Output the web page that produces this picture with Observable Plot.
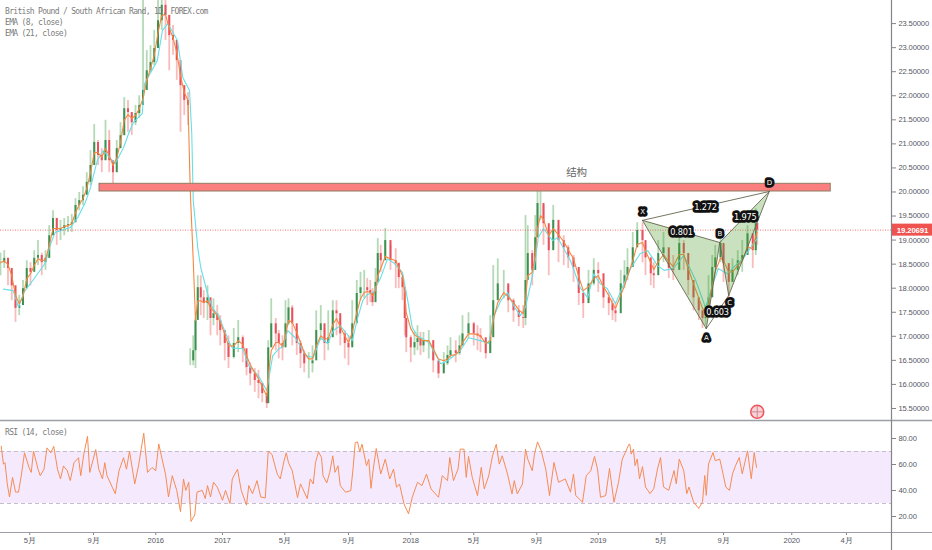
<!DOCTYPE html>
<html><head><meta charset="utf-8">
<script src="https://cdn.jsdelivr.net/npm/d3@7"></script>
<script src="https://cdn.jsdelivr.net/npm/@observablehq/plot@0.6"></script>
<style>
html,body{margin:0;padding:0;background:#fff;overflow:hidden}
#wrap{position:relative;width:932px;height:550px}
#wrap svg{display:block;background:transparent}
.leg{position:absolute;left:5px;font:8px/10px "DejaVu Sans Mono",monospace;letter-spacing:-.68px;color:#7b7b7b;white-space:pre}
</style></head><body><div id="wrap"></div>
<script>
// bar numbers of the sampled candles (trading-day count from the left edge)
const bars=[0,5,10,15,20,25,30,35,40,45,50,55,60,65,70,75,80,85,90,95,100,105,110,115,120,125,130,135,140,145,150,155,160,165,170,175,180,185,190,195,200,205,210,215,220,225,230,235,240,245,250,
253,257,260,263,267,271,276,280,284,289,293,299,304,311,317,323,328,333,339,344,349,355,357,361,367,371,376,380,384,389,395,400,405,411,416,421,427,432,437,443,448,453,459,464,469,475,480,485,489,
493,496,500,503,507,513,520,527,531,536,539,541,547,552,556,560,564,571,577,584,591,596,600,607,612,616,624,631,636,640,647,653,657,663,671,677,684,691,697,700,703,709,713,716,720,724,731,737,744,751,757,764,771,777,784,791,797,804,811,816,820,827,832,836,843,849,856,860,867,871,877,884,891,897,905,911,917,924,931,936,940,944,949,953,960,964,971,976,983,989,996,1003,1007,1009];
const closes=[18.53,18.62,18.41,18.05,17.58,17.64,17.99,18.41,18.33,18.62,18.68,18.53,18.62,19.09,19.45,19.2,19.24,19.3,19.32,19.36,19.72,19.82,19.93,20.2,20.55,21.03,20.76,20.65,21.07,20.65,20.4,20.9,21.17,21.73,21.65,21.44,21.63,21.8,22.11,22.52,22.69,22.98,23.56,23.88,23.67,23.25,23.15,22.73,22.21,21.9,21.8,
16.49,16.7,17.33,18.01,17.8,17.68,17.8,17.37,17.47,17.33,17.12,16.85,16.56,16.85,16.97,16.74,16.35,16.22,16.08,16.02,15.81,15.6,16.76,17.26,17.05,16.85,16.76,17.26,17.59,17.26,16.85,16.64,16.43,16.43,16.49,17.12,17.26,16.85,16.97,17.53,17.47,17.05,16.85,16.76,17.26,17.89,18.01,18.01,17.95,
17.89,17.7,18.12,18.72,18.57,18.99,18.57,18.51,18.22,18.01,17.37,16.97,16.76,16.87,16.95,16.8,16.91,16.91,16.49,16.22,16.43,16.6,16.7,16.64,16.8,17.05,17.26,17.05,17.01,16.97,16.64,16.97,17.74,18.09,18.09,17.74,17.53,17.39,17.37,18.16,18.72,18.37,19.05,19.76,19.76,19.34,18.78,19.41,18.99,18.84,18.63,18.43,17.89,17.68,18.09,18.37,18.3,17.8,17.68,17.53,17.47,18.09,18.26,18.43,18.84,19.2,18.99,18.63,18.3,18.26,18.72,18.84,18.41,18.37,18.93,18.72,18.16,17.8,17.53,17.37,17.39,17.8,18.43,18.63,18.93,18.51,18.12,18.37,18.57,18.68,19.13,18.78,19.34,19.20691];
const highs=[18.73,18.78,18.61,18.33,17.74,17.85,18.16,18.57,18.53,18.78,18.99,18.73,18.78,19.3,19.61,19.45,19.41,19.45,19.49,19.53,19.86,19.99,20.11,20.4,20.86,21.4,21.07,20.9,21.49,21.28,20.65,21.07,21.44,21.96,21.9,21.65,21.8,22,24.3,22.94,23.04,23.36,24.08,24.19,24.08,23.67,23.46,23.04,22.52,22.21,22.07,
16.74,17.01,17.37,18.26,18.26,17.95,18.05,17.74,17.78,17.64,17.43,17.12,17.01,17.16,17.33,17.01,16.6,16.45,16.33,16.29,16.03,15.76,16.91,17.78,17.37,17.12,17.01,17.74,17.78,17.64,17.12,16.91,16.7,16.66,16.8,17.53,17.64,17.16,17.53,17.74,17.74,17.37,17.12,17.01,17.74,18.16,18.33,18.37,18.2,
18.16,17.99,18.41,19.03,18.89,19.24,18.89,18.82,18.53,18.26,17.64,17.22,17.01,17.08,17.22,17.08,17.08,17.12,16.8,16.45,16.66,16.8,16.97,16.91,17.01,17.43,17.49,17.29,17.22,17.16,16.91,17.43,18.47,18.61,18.37,18.05,17.78,17.64,17.64,19.51,19.3,18.78,19.51,20.13,20.03,19.72,19.09,19.72,19.3,19.09,18.89,18.68,18.16,17.91,18.37,18.61,18.53,18.05,17.91,17.78,17.7,18.37,18.57,18.82,19.16,19.36,19.36,18.89,18.57,18.53,18.99,19.16,18.68,18.68,19.24,18.99,18.41,18.05,17.78,17.53,17.64,18.26,18.68,18.89,19.16,18.89,18.37,18.61,18.78,18.99,19.3,19.09,19.65,19.45];
const lows=[18.26,18.41,18.05,17.74,17.29,17.43,17.74,18.16,18.05,18.41,18.47,18.26,18.37,18.89,19.16,18.89,18.99,19.09,19.16,19.16,19.51,19.61,19.72,19.99,20.13,20.65,20.55,20.4,20.65,20.4,20.13,20.65,20.97,21.49,21.24,21.17,21.38,21.53,22,22.21,22.48,22.63,23.15,23.36,23.15,22.52,22.84,22.32,21.24,21.59,21.38,
16.39,16.39,16.33,17.37,17.43,17.37,17.33,17.01,17.22,17.01,16.8,16.49,16.33,16.53,16.66,16.45,16.18,15.97,15.83,15.7,15.62,15.5,15.97,16.8,16.7,16.53,16.49,16.91,17.22,16.8,16.6,16.33,16.24,16.12,16.24,16.7,16.91,16.49,16.7,17.22,17.01,16.8,16.53,16.39,16.8,17.53,17.74,17.78,17.64,
17.7,17.62,17.85,18.37,18.33,18.68,18.37,17.99,17.99,17.74,17.01,16.66,16.45,16.6,16.7,16.6,16.66,16.53,16.24,16.12,16.24,16.39,16.53,16.45,16.6,16.8,16.95,16.8,16.7,16.66,16.53,16.7,17.33,17.78,17.78,17.49,17.29,17.2,17.16,17.22,18.26,18.05,18.47,19.3,19.41,18.89,18.26,18.89,18.53,18.47,18.41,18.12,17.64,17.37,17.74,18.05,17.91,17.58,17.43,17.33,17.29,17.78,17.99,18.16,18.53,18.89,18.53,18.26,18.05,17.99,18.41,18.53,18.2,18.16,18.61,18.37,17.85,17.53,17.33,17.16,17.22,17.53,18.05,18.41,18.53,18.12,17.78,18.12,18.26,18.33,18.68,18.41,18.68,18.89];
const ema8=[18.53,18.57,18.49,18.26,17.85,17.68,17.82,18.2,18.3,18.47,18.61,18.57,18.59,18.89,19.24,19.24,19.24,19.28,19.3,19.34,19.57,19.74,19.86,20.07,20.4,20.82,20.82,20.72,20.9,20.76,20.55,20.7,21.03,21.49,21.61,21.53,21.59,21.73,21.94,22.32,22.57,22.84,23.31,23.67,23.69,23.4,23.21,22.9,22.42,22.07,21.9,
20.03,18.57,17.33,17.74,17.74,17.7,17.74,17.58,17.53,17.43,17.29,17.05,16.8,16.8,16.91,16.83,16.6,16.41,16.24,16.12,15.95,15.76,16.18,16.7,16.87,16.87,16.8,17.01,17.33,17.29,17.08,16.87,16.66,16.53,16.53,16.8,17.01,16.95,16.95,17.24,17.37,17.2,17.01,16.87,17.08,17.49,17.78,17.91,17.93,
17.91,17.85,17.95,18.26,18.41,18.66,18.61,18.57,18.43,18.26,17.91,17.49,17.16,17.03,16.99,16.93,16.91,16.91,16.74,16.53,16.49,16.53,16.6,16.62,16.7,16.87,17.05,17.05,17.03,17.01,16.85,16.91,17.33,17.7,17.91,17.82,17.7,17.55,17.47,17.78,18.26,18.33,18.68,19.24,19.51,19.43,19.09,19.24,19.11,18.97,18.8,18.61,18.24,17.95,18.03,18.2,18.26,18.03,17.85,17.68,17.58,17.85,18.05,18.24,18.57,18.91,18.95,18.78,18.53,18.39,18.55,18.7,18.55,18.45,18.7,18.7,18.41,18.09,17.8,17.58,17.49,17.66,18.05,18.34,18.63,18.57,18.33,18.34,18.47,18.57,18.86,18.82,19.09,19.16];
const ema21Bars=[4,17,24,31,43,60,67,73,93,103,113,120,129,137,153,164,171,177,189,192,209,216,223,236,243,252,255,257,263,267,276,283,291,304,309,323,331,344,355,363,371,376,383,393,407,417,427,436,444,453,469,476,483,489,497,507,516,524,536,543,549,556,571,587,596,613,624,640,651,657,667,676,684,693,700,707,713,717,724,736,743,760,773,783,791,800,809,820,829,840,853,863,876,885,897,911,927,940,947,957,969,977,991,1004,1009];
const ema21=[17.98,17.95,17.6,17.91,18.16,18.53,18.93,19.16,19.26,19.47,19.78,20.09,20.65,20.86,20.59,20.92,21.22,21.44,21.63,22.25,22.73,23.36,23.5,23.15,22.38,22.11,21.22,19.82,18.84,18.43,17.89,17.58,17.43,16.91,16.76,16.74,16.39,16.18,15.87,16.6,16.74,16.78,17.12,16.97,16.6,16.56,16.97,16.85,17.12,17.22,16.91,17.37,17.74,17.87,17.91,18.22,18.61,18.53,18.33,17.74,17.18,17.01,16.87,16.43,16.49,16.7,16.97,16.91,16.85,17.39,17.74,17.91,17.64,17.43,17.6,18.09,18.57,19.05,19.24,18.99,19.05,18.57,18.01,17.8,18.3,18.09,17.99,17.68,18.01,18.41,18.72,18.78,18.47,18.37,18.41,18.68,18.16,17.6,17.95,18.41,18.3,18.43,18.63,18.93,19.03];
const rsiBars=[1,4,6,9,12,16,20,24,28,32,38,41,44,50,53,58,62,67,71,76,80,84,89,93,98,104,107,111,116,119,127,131,136,139,142,149,153,158,164,168,172,179,184,191,196,202,207,211,216,220,224,229,235,240,244,247,251,254,259,262,269,273,276,280,284,289,296,300,306,309,316,321,328,331,336,342,347,353,357,362,369,373,378,381,384,389,396,400,409,413,
417,420,424,428,430,435,439,443,446,450,453,460,467,470,473,476,479,482,488,491,494,497,501,507,513,519,524,528,532,538,544,549,556,562,568,574,584,589,596,599,604,610,613,618,621,624,629,636,641,645,651,656,661,665,669,676,682,685,689,696,700,703,709,712,716,721,727,732,738,744,753,760,764,767,776,781,787,792,796,800,807,812,818,824,829,833,838,
839,841,844,846,849,852,856,860,866,871,876,880,884,891,898,901,905,911,915,918,924,931,936,939,941,944,950,953,959,962,967,972,976,980,985,989,996,1001,1005,1008];
const rsiValues=[74,60.2,61.4,45.1,35,50.1,38.8,38.8,52.6,69,57.7,53.9,70.3,56.4,51.4,56.4,72.8,69,74,56.4,48.9,58.9,55.2,47.6,61.4,65.2,51.4,67.7,81.6,53.9,71.5,56.4,48.9,61.4,51.4,42.6,37.5,55.2,65.2,56.4,70.3,45.1,58.9,84.1,53.9,57.7,55.2,75.8,62.7,52.6,35,51.4,40.1,23.7,48.9,40.1,46.4,16.2,21.2,38.8,40.1,33.8,43.8,35,46.4,42.6,32.5,40.1,30,48.9,56.4,40.1,28.7,43.8,37.5,47.6,35,34.3,70.3,67.7,52.6,48.9,62.7,69,61.4,55.2,34.5,45.1,33.8,48.9,
45,61.6,69.7,65.4,51.4,45.8,54,66.7,54,59,43.8,38.7,39.9,56.5,76.9,77.4,69.7,75.6,59,64.1,41.7,56.5,72.3,52.7,64.1,48.9,56.5,42.5,45,29.7,22.1,34.8,46.3,43.8,52.7,41.2,34.8,51.4,47.6,65.4,47.6,56.5,71.8,71.8,50.1,66.2,50.1,36.1,57.8,41.2,51.4,66.7,75.6,60.3,66.7,52.7,37.4,47.6,37.4,45,71.8,64.1,55.2,68,77.4,70.5,56.5,36.1,61.6,46.3,48.9,38.7,52.7,36.1,31,51.4,55.2,66.2,56.5,34.8,36.1,57,31,46.3,64.1,69.2,75.6,
75.6,68,71.8,59.1,64.2,49,58.4,42.7,37.6,41.4,56.6,65.4,42.7,40.1,55.3,45.2,64.2,55.3,37.6,42.7,31.3,26.2,31.3,51.5,36.3,60.4,69.2,62.9,64.2,56.6,42.7,40.1,52.8,59.1,65.4,52.8,70.5,49,69.2,57.8];
const tickBars=[39,124,207,296,379,464,547,631,715,797,881,964,1055,1128];
const tickLabels=["5月","9月","2016","2017","5月","9月","2018","5月","9月","2019","5月","9月","2020","4月"];
const priceTicks=[15.5,16,16.5,17,17.5,18,18.5,19,19.5,20,20.5,21,21.5,22,22.5,23,23.5];
const rsiTicks=[20,40,60,80];
const gapBar=253, lastPrice=19.20691;
const zoneBars=[132,1107], zonePrices=[20.01,20.17];
const pointNames=["X","A","B","C","D"];
const pointBars=[856,941,959,971,1025];
const pointPrices=[19.41,17.16,18.95,17.85,20.01];
const pointLabelBars=[856,941,959,972,1025];
const pointLabelPrices=[19.59,16.97,19.14,17.7,20.2];
const ratioNames=["1.272","0.801","0.603","1.975"];
const ratioBars=[940,908,956,993];
const ratioPrices=[19.68,19.16,17.49,19.47];
const xDomain=[0,1188], xEdge=1243;
const priceDomain=[15.25,23.98], rsiDomain=[7.7,93.85];

const candles=bars.map((b,i)=>({b,close:closes[i],open:(i===0||b===gapBar)?closes[i]:closes[i-1],high:highs[i],low:lows[i]}));
const pt=i=>({b:pointBars[i],p:pointPrices[i]});
const poly=idx=>idx.map(pt);
const seg=(a,b)=>Plot.line([pt(a),pt(b)],{x:"b",y:"p",stroke:"#66664f",strokeWidth:.9});
const G="#3c9150",R="#e9505c",GW="#b4d9b6",RW="#f9bcbc",AX="#83848c",TXT="#55575f";
const base={width:932,marginLeft:0,marginRight:41,marginTop:0,style:{fontFamily:'"Liberation Sans",sans-serif',fontSize:"7.6px",letterSpacing:"-.15px",color:TXT,background:"transparent",overflow:"visible"}};
const halo={fill:"#fff",stroke:"#111",strokeWidth:5.5,strokeLinejoin:"round",paintOrder:"stroke",fontFamily:'"DejaVu Sans"'};

const main=Plot.plot({...base,height:420,marginBottom:0,
 x:{domain:xDomain,axis:null},
 y:{domain:priceDomain},
 marks:[
  Plot.ruleX(candles,{x:"b",y1:"low",y2:"high",stroke:d=>d.close>=d.open?GW:RW,strokeWidth:1.8,clip:true}),
  Plot.ruleX(candles,{x:"b",y1:"open",y2:"close",stroke:d=>d.close>=d.open?G:R,strokeWidth:2,clip:true}),
  Plot.line(ema21,{x:(d,i)=>ema21Bars[i],y:d=>d,stroke:"#66dfe8",strokeWidth:1.1,clip:true}),
  Plot.line(ema8,{x:(d,i)=>bars[i],y:d=>d,stroke:"#f5863f",strokeWidth:1.1,clip:true}),
  Plot.ruleY([lastPrice],{stroke:"#ef5350",strokeDasharray:"1,1.5",strokeWidth:.8}),
  Plot.rect([0],{x1:()=>zoneBars[0],x2:()=>zoneBars[1],y1:()=>zonePrices[0],y2:()=>zonePrices[1],fill:"#fb7f7f",stroke:"#8f7d62",strokeWidth:1}),
  Plot.text(["结构"],{x:()=>768,y:()=>20.4,fontFamily:'"Noto Sans CJK SC"',fontSize:10.5,fill:"#666"}),
  Plot.line(poly([0,1,2]),{x:"b",y:"p",fill:"#4c9a2a",fillOpacity:.3,stroke:"none"}),
  Plot.line(poly([2,3,4]),{x:"b",y:"p",fill:"#4c9a2a",fillOpacity:.3,stroke:"none"}),
  seg(0,1),seg(1,2),seg(2,3),seg(3,4),seg(0,2),seg(2,4),seg(0,4),seg(1,3),
  Plot.text(ratioNames,{x:(d,i)=>ratioBars[i],y:(d,i)=>ratioPrices[i],fontSize:8.2,...halo}),
  Plot.text(pointNames,{x:(d,i)=>pointLabelBars[i],y:(d,i)=>pointLabelPrices[i],fontSize:7,...halo}),
  Plot.dot([0],{x:()=>1009,y:()=>15.43,r:6.5,fill:"#fbd3d6",stroke:"#f0505a",strokeWidth:1.5}),
  Plot.dot([0],{x:()=>1009,y:()=>15.43,r:4,symbol:"plus",stroke:"#c78b92",strokeWidth:1}),
  Plot.axisY({anchor:"right",ticks:priceTicks,tickFormat:d=>d.toFixed(5),tickSize:4,tickPadding:3,label:null,stroke:AX,fill:TXT}),
  Plot.rect([0],{x1:()=>xDomain[1],x2:()=>xEdge,y1:()=>lastPrice-.125,y2:()=>lastPrice+.125,fill:"#ef5350"}),
  Plot.text([lastPrice],{x:()=>1216,y:d=>d,text:d=>d.toFixed(5),fill:"#fff",fontWeight:"bold",fontSize:7.8}),
  Plot.ruleX([xDomain[1]],{stroke:AX,strokeWidth:1.2})
 ]});

const rsi=Plot.plot({...base,height:130,marginBottom:18,
 x:{domain:xDomain,axis:null},
 y:{domain:rsiDomain},
 marks:[
  Plot.rect([0],{x1:()=>xDomain[0],x2:()=>xDomain[1],y1:()=>30,y2:()=>70,fill:"#f5e9fd"}),
  Plot.ruleY([30,70],{stroke:"#c3bec9",strokeDasharray:"4,3",strokeWidth:1}),
  Plot.line(rsiValues,{x:(d,i)=>rsiBars[i],y:d=>d,stroke:"#f68c54",strokeWidth:1}),
  Plot.axisY({anchor:"right",ticks:rsiTicks,tickFormat:d=>d.toFixed(2),tickSize:4,tickPadding:3,label:null,stroke:AX,fill:TXT}),
  Plot.axisX({anchor:"bottom",ticks:tickBars,tickFormat:d=>tickLabels[tickBars.indexOf(d)],tickSize:3,tickPadding:2,label:null,stroke:AX,fill:TXT}),
  Plot.ruleY([rsiDomain[1]],{x1:xDomain[0],x2:xEdge,stroke:"#9d9ea4",strokeWidth:1.6}),
  Plot.ruleY([rsiDomain[0]],{x1:xDomain[0],x2:xEdge,stroke:"#9d9ea4",strokeWidth:1.2}),
  Plot.ruleX([xDomain[1]],{y1:rsiDomain[1],y2:-6.2,stroke:AX,strokeWidth:1.2})
 ]});

const wrap=document.getElementById("wrap");
wrap.append(main,rsi);
[["British Pound / South African Rand, 1D, FOREX.com",7],["EMA (8, close)",18],["EMA (21, close)",29],["RSI (14, close)",428]].forEach(([t,top])=>{
  const d=document.createElement("div");d.className="leg";d.textContent=t;d.style.top=top+"px";wrap.append(d);
});
</script></body></html>
